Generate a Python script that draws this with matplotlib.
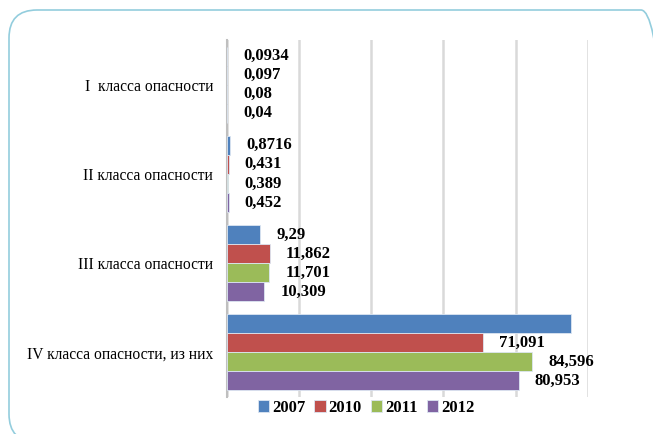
import matplotlib
matplotlib.use("Agg")
import matplotlib.pyplot as plt
import numpy as np
from matplotlib.patches import FancyBboxPatch

categories = ["I  класса опасности", "II класса опасности",
              "III класса опасности", "IV класса опасности, из них"]
years = ["2007", "2010", "2011", "2012"]
colors = ["#4F81BD", "#C0504D", "#9BBB59", "#8064A2"]

v2007 = [0.0934, 0.8716, 9.29, 95.4]
v2010 = [0.097, 0.431, 11.862, 71.091]
v2011 = [0.08, 0.389, 11.701, 84.596]
v2012 = [0.04, 0.452, 10.309, 80.953]
# the 2007 value of class IV carries no label in the source
show_label_2007 = [True, True, True, False]

series = [v2007, v2010, v2011, v2012]
label_flags = [show_label_2007, [True] * 4, [True] * 4, [True] * 4]

plt.rcParams["font.family"] = ["Liberation Serif", "DejaVu Serif"]

fig = plt.figure(figsize=(6.53, 4.34), dpi=100)
ax = fig.add_axes([0.3476, 0.0853, 0.9 - 0.3476, 0.9078 - 0.0853])

y = np.arange(len(categories))
h = 0.213
for i, (vals, flags) in enumerate(zip(series, label_flags)):
    pos = y + (i - 1.5) * h
    ax.barh(pos, vals, height=h, color=colors[i], edgecolor="#DCE6F2",
            linewidth=0.6, label=years[i], zorder=3)
    for p, v, f in zip(pos, vals, flags):
        if not f:
            continue
        ax.annotate(str(v).replace(".", ","), (v, p), xytext=(11.5, 0),
                    textcoords="offset points", ha="left", va="center",
                    fontsize=12, fontweight="bold", zorder=4)

ax.set_xlim(0, 100)
ax.set_ylim(3.5, -0.5)
ax.set_xticks([0, 20, 40, 60, 80, 100])
ax.set_xticklabels([])
ax.tick_params(axis="x", length=0)
ax.grid(axis="x", color="#D9D9D9", linewidth=1.8, zorder=0)
ax.set_yticks(y)
ax.set_yticklabels(categories, fontsize=11.2)
ax.tick_params(axis="y", length=0, pad=10)
for s in ["top", "right", "bottom"]:
    ax.spines[s].set_visible(False)
ax.spines["left"].set_color("#BFBFBF")
ax.spines["left"].set_linewidth(1.5)

leg = ax.legend(loc="upper center", bbox_to_anchor=(0.385, 0.03), ncol=4,
                frameon=False, handlelength=0.7, handleheight=0.7,
                handletextpad=0.15, columnspacing=0.55, borderpad=0.3,
                prop={"size": 12, "weight": "bold"})

border = FancyBboxPatch((9, -8), 660, 432, boxstyle="round,pad=0,rounding_size=28",
                        transform=None, facecolor="none", edgecolor="#93CDDD",
                        linewidth=1.2, clip_on=False)
fig.patches.append(border)

fig.savefig("out.png", dpi=100)
